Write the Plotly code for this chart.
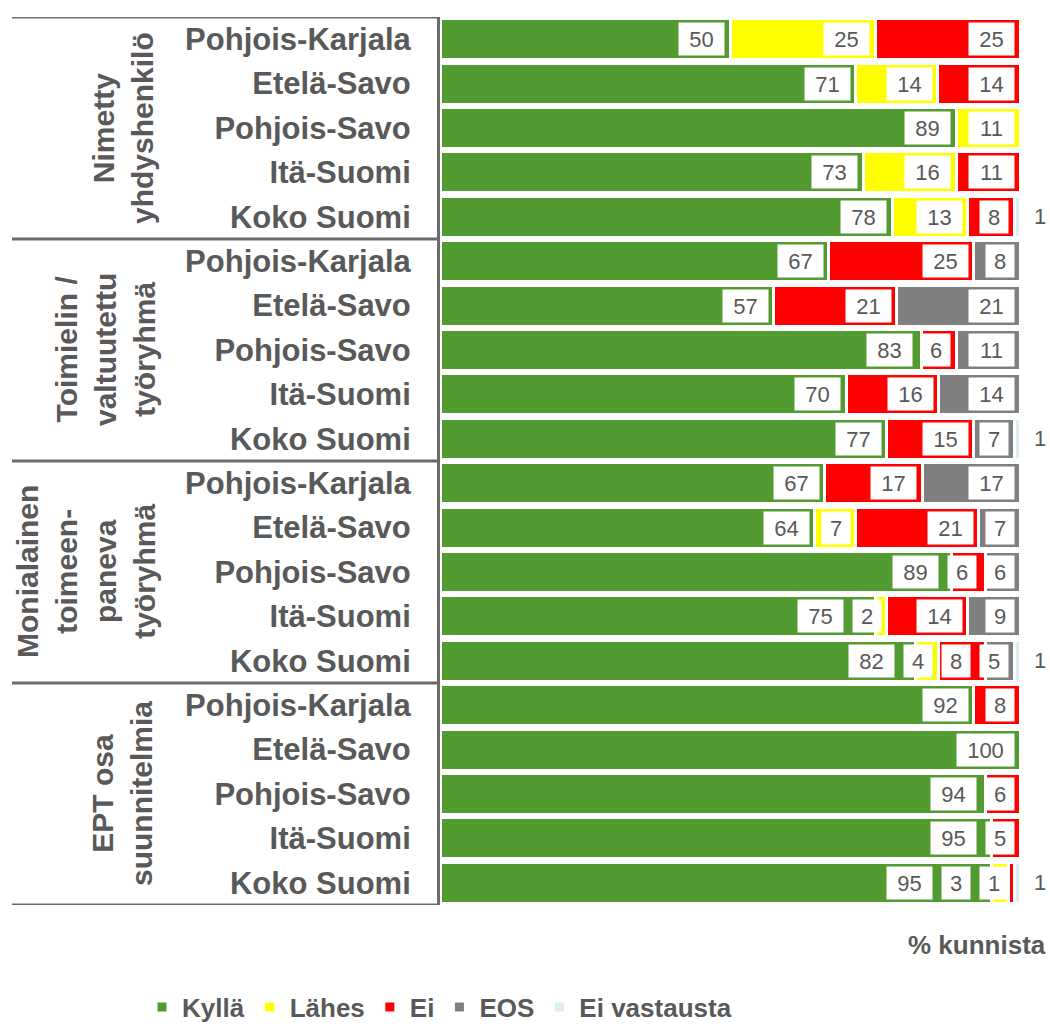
import plotly.graph_objects as go

# ---------------- data ----------------
groups = ["Nimetty<br>yhdyshenkilö",
          "Toimielin /<br>valtuutettu<br>työryhmä",
          "Monialainen<br>toimeen-<br>paneva<br>työryhmä",
          "EPT osa<br>suunnitelmia"]
regions = ["Pohjois-Karjala", "Etelä-Savo", "Pohjois-Savo", "Itä-Suomi", "Koko Suomi"]
series_names = ["Kyllä", "Lähes", "Ei", "EOS", "Ei vastausta"]
colors = ["#529B30", "#FFFF00", "#FF0000", "#7F7F7F", "#DAEEF3"]

kylla = [50, 71, 89, 73, 78, 67, 57, 83, 70, 77, 67, 64, 89, 75, 82, 92, 100, 94, 95, 95]
lahes = [25, 14, 11, 16, 13, 0, 0, 0, 0, 0, 0, 7, 0, 2, 4, 0, 0, 0, 0, 3]
ei = [25, 14, 0, 11, 8, 25, 21, 6, 16, 15, 17, 21, 6, 14, 8, 8, 0, 6, 5, 1]
eos = [0, 0, 0, 0, 0, 8, 21, 11, 14, 7, 17, 7, 6, 9, 5, 0, 0, 0, 0, 0]
ei_vastausta = [0, 0, 0, 0, 1, 0, 0, 0, 0, 1, 0, 0, 0, 0, 1, 0, 0, 0, 0, 1]

series = [kylla, lahes, ei, eos, ei_vastausta]

# ---------------- layout constants ----------------
FONT = "Liberation Sans, Arial, sans-serif"
TXT = "#595959"
LINE = "#6b6b6b"
W, H = 1050, 1027
ML, MT = 440, 17
PW, PH = 580, 888
MR = W - ML - PW
MB = H - MT - PH

n_rows = len(groups) * len(regions)
rows = list(range(n_rows))
ticktext = regions * len(groups)

fig = go.Figure()
for name, col, vals in zip(series_names, colors, series):
    fig.add_trace(go.Bar(
        y=rows, x=vals, name=name, orientation="h",
        marker=dict(color=col, line=dict(color="white", width=3)),
        hoverinfo="skip",
    ))

# value labels: white boxes at the inside end of each segment,
# pushed left when they would collide with the next label
px_per_unit = PW / 100.0
box_w = {1: 28, 2: 45, 3: 57}
GAP = 10
annotations = []
for r in rows:
    vals = [s[r] for s in series]
    total = sum(vals)
    ends = []
    cum = 0
    for v in vals:
        cum += v
        ends.append(cum / total * 100)
    prev_left = None
    for i in range(3, -1, -1):
        v = vals[i]
        if v <= 0:
            continue
        end_px = ends[i] * px_per_unit
        right = end_px - 5
        if prev_left is not None:
            right = min(right, prev_left - GAP)
        bw = box_w[len(str(v))]
        prev_left = right - bw
        annotations.append(dict(
            x=ends[i], y=r, xref="x", yref="y", text=str(v),
            showarrow=False, xanchor="right", yanchor="middle",
            xshift=right - end_px,
            bgcolor="white", borderpad=2, width=bw - 4, height=28,
            font=dict(family=FONT, size=22, color=TXT),
        ))
    if vals[4] > 0:
        annotations.append(dict(
            x=100, y=r, xref="x", yref="y", text=str(vals[4]),
            showarrow=False, xanchor="left", yanchor="middle", xshift=12,
            font=dict(family=FONT, size=22, color=TXT),
        ))

# group labels (rotated)
group_x_px = [123, 105, 86, 122]
for gi, g in enumerate(groups):
    mid = gi * len(regions) + (len(regions) - 1) / 2
    annotations.append(dict(
        x=(group_x_px[gi] - 440) / PW, y=mid, xref="paper", yref="y",
        text=g, textangle=-90, showarrow=False,
        xanchor="center", yanchor="middle", align="center",
        font=dict(family=FONT, size=30, color=TXT, weight="bold"),
    ))

# axis caption
annotations.append(dict(
    x=(1048 - 440) / PW, y=-(945 - 905) / PH, xref="paper", yref="paper",
    text="% kunnista", showarrow=False, xanchor="right", yanchor="middle",
    font=dict(family=FONT, size=26, color=TXT, weight="bold"),
))

shapes = []
for gi in range(len(groups) + 1):
    b = gi * len(regions) - 0.5
    shapes.append(dict(
        type="line", xref="paper", yref="y",
        x0=(12 - 440) / PW, x1=0, y0=b, y1=b,
        line=dict(color=LINE, width=3),
    ))

fig.update_layout(
    width=W, height=H,
    margin=dict(l=ML, r=MR, t=MT, b=MB, autoexpand=False),
    paper_bgcolor="white", plot_bgcolor="white",
    barmode="stack", barnorm="percent", bargap=0.075,
    showlegend=True,
    legend=dict(
        orientation="h", xref="paper", yref="paper",
        x=(142 - 440) / PW, y=-(1007 - 905) / PH,
        xanchor="left", yanchor="middle",
        font=dict(family=FONT, size=26, color=TXT, weight="bold"),
        itemwidth=30, traceorder="normal",
    ),
    xaxis=dict(range=[0, 100], showgrid=False, zeroline=False,
               showticklabels=False, showline=False, fixedrange=True),
    yaxis=dict(range=[n_rows - 0.5, -0.5], tickmode="array",
               tickvals=rows, ticktext=ticktext,
               tickfont=dict(family=FONT, size=31, color=TXT, weight="bold"),
               ticks="", ticklabelstandoff=20,
               showline=True, linecolor=LINE, linewidth=3,
               showgrid=False, zeroline=False),
    annotations=annotations,
    shapes=shapes,
    font=dict(family=FONT, color=TXT),
)

fig.write_html(
    "out.html",
    config={"displayModeBar": False},
    post_script="document.body.style.margin='0';document.body.style.overflow='hidden';",
)
